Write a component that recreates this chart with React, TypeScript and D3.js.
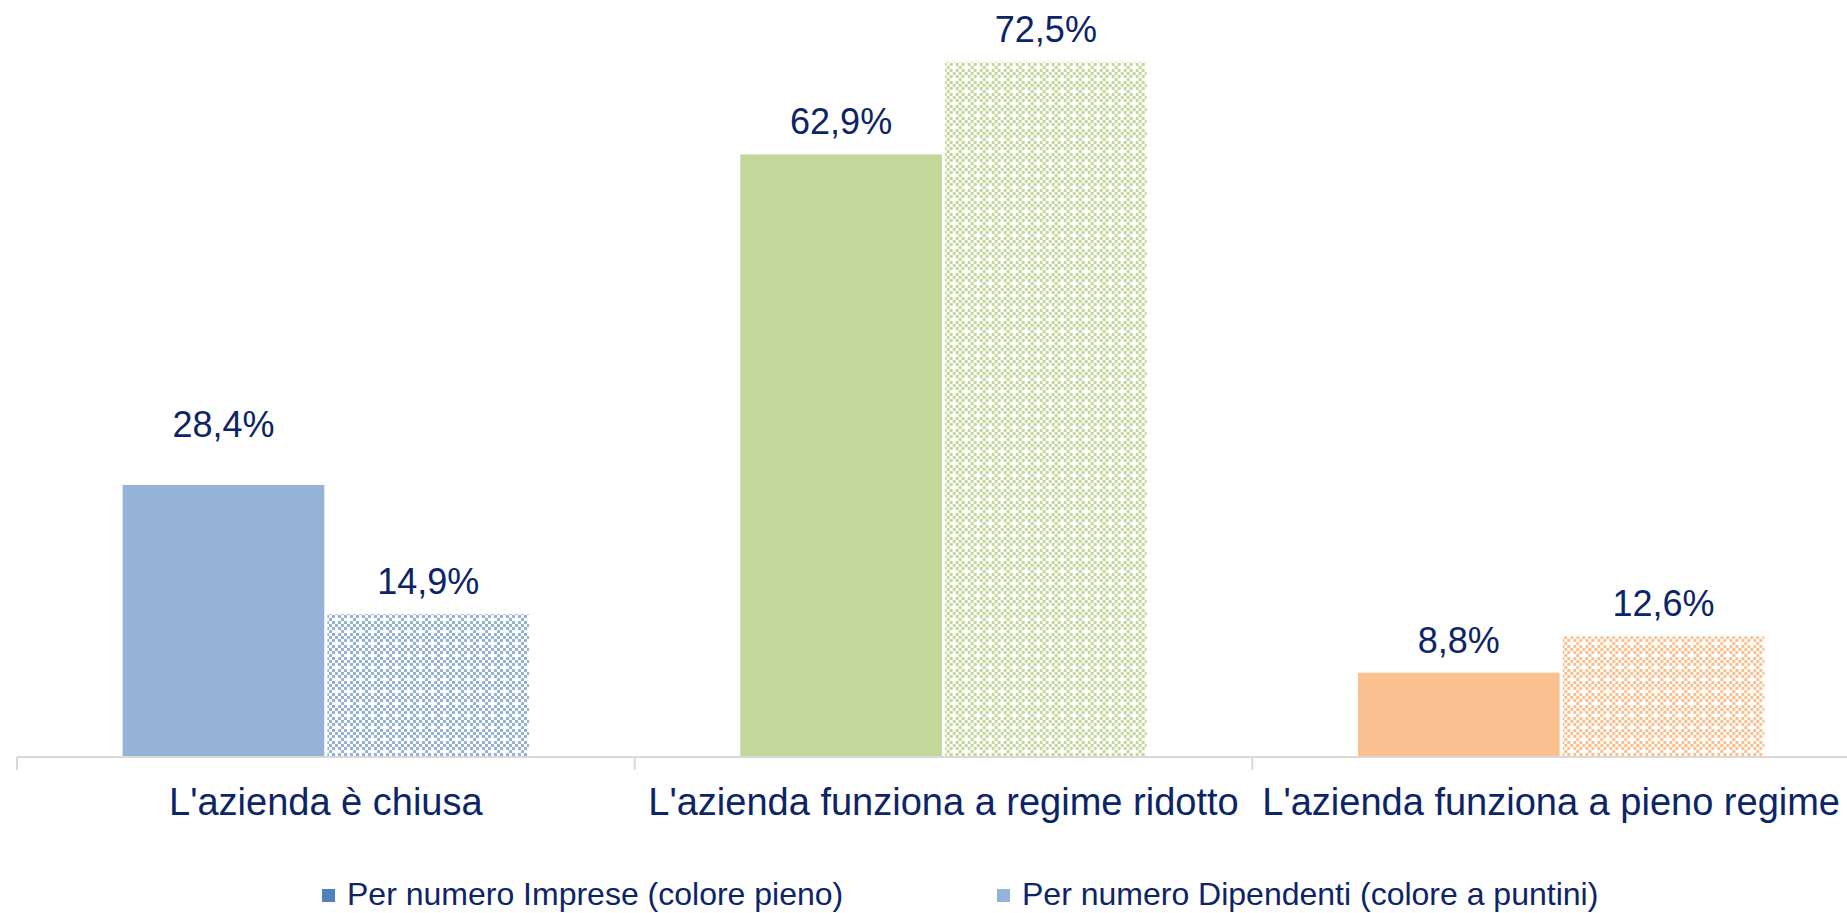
import React, { useEffect, useRef } from "react";
import * as d3 from "d3";

// --- Data
const categories = [
  "L'azienda è chiusa",
  "L'azienda funziona a regime ridotto",
  "L'azienda funziona a pieno regime",
];
const series = ["Per numero Imprese (colore pieno)", "Per numero Dipendenti (colore a puntini)"];
const imprese = [28.4, 62.9, 8.8];
const dipendenti = [14.9, 72.5, 12.6];
const catColors = ["#95b3d7", "#c4d79b", "#fac090"];
const legendColors = ["#4f81bd", "#95b3d7"];

const W = 1847;
const H = 913;
const TEXT = "#0c2468";
const FONT = "'Liberation Sans', Arial, sans-serif";

const App: React.FC = () => {
  const ref = useRef<SVGSVGElement | null>(null);

  useEffect(() => {
    if (!ref.current) return;
    const root = d3.select(ref.current);
    root.selectAll("*").remove();

    // x: the plot area runs past the right edge of the window, like the original
    const x = d3.scaleBand<string>().domain(categories).range([17, 1870]).padding(0);
    const bw = x.bandwidth();
    const xs = d3
      .scaleBand<number>()
      .domain([0, 1])
      .range([bw * 0.171, bw * 0.829])
      .paddingInner(0.015);
    const y = d3.scaleLinear().domain([0, 80]).range([757, 757 - 80 * 9.58]);

    // --- dotted patterns
    const defs = root.append("defs");
    catColors.forEach((c, i) => {
      const p = defs
        .append("pattern")
        .attr("id", `dots-${i}`)
        .attr("patternUnits", "userSpaceOnUse")
        .attr("width", 12)
        .attr("height", 12);
      p.append("rect").attr("width", 12).attr("height", 12).attr("fill", "#fff");
      for (let r = 0; r < 4; r++) {
        for (let k = 0; k < 4; k++) {
          if ((r + k) % 2 !== 0) continue;
          if (r === 2 && k === 2) continue;
          p.append("rect")
            .attr("x", k * 3)
            .attr("y", r * 3)
            .attr("width", 3)
            .attr("height", 3)
            .attr("fill", c);
        }
      }
    });

    const g = root.append("g");

    // --- bars
    const rows = categories.map((cat, i) => ({
      cat,
      i,
      vals: [imprese[i], dipendenti[i]],
    }));

    const groups = g
      .selectAll(".grp")
      .data(rows)
      .join("g")
      .attr("class", "grp")
      .attr("transform", (d) => `translate(${x(d.cat)},0)`);

    groups
      .selectAll("rect")
      .data((d) => d.vals.map((v, s) => ({ v, s, i: d.i })))
      .join("rect")
      .attr("x", (d) => xs(d.s)!)
      .attr("width", xs.bandwidth())
      .attr("y", (d) => y(d.v))
      .attr("height", (d) => y(0) - y(d.v))
      .attr("fill", (d) => (d.s === 0 ? catColors[d.i] : `url(#dots-${d.i})`));

    // value labels (the first one was moved up by hand in the original)
    groups
      .selectAll("text")
      .data((d) => d.vals.map((v, s) => ({ v, s, i: d.i })))
      .join("text")
      .attr("x", (d) => xs(d.s)! + xs.bandwidth() / 2)
      .attr("y", (d) => y(d.v) - (d.i === 0 && d.s === 0 ? 48 : 20))
      .attr("text-anchor", "middle")
      .style("font-family", FONT)
      .style("font-size", "36px")
      .style("fill", TEXT)
      .text((d) => `${d.v.toFixed(1).replace(".", ",")}%`);

    // --- axis
    const axis = g.append("g").attr("transform", `translate(0,${y(0)})`);
    axis
      .append("line")
      .attr("x1", 17)
      .attr("x2", 1870)
      .attr("stroke", "#d9d9d9")
      .attr("stroke-width", 2);
    const edges = categories.map((c) => x(c)!).concat([1870]);
    axis
      .selectAll(".tick")
      .data(edges)
      .join("line")
      .attr("class", "tick")
      .attr("x1", (d) => d)
      .attr("x2", (d) => d)
      .attr("y1", 0)
      .attr("y2", 13)
      .attr("stroke", "#d9d9d9")
      .attr("stroke-width", 2);

    // category labels, pulled back inside the window when they overflow
    g.selectAll(".cat")
      .data(categories)
      .join("text")
      .attr("class", "cat")
      .attr("x", (d) => x(d)! + bw / 2)
      .attr("y", 815)
      .attr("text-anchor", "middle")
      .style("font-family", FONT)
      .style("font-size", "38px")
      .style("fill", TEXT)
      .text((d) => d)
      .each(function (d) {
        const len = (this as SVGTextElement).getComputedTextLength();
        const cx = x(d)! + bw / 2;
        if (cx + len / 2 > W - 7) d3.select(this).attr("x", W - 7 - len / 2);
      });

    // --- legend
    const legendX = [322, 997];
    const lg = g
      .selectAll(".leg")
      .data(series)
      .join("g")
      .attr("class", "leg")
      .attr("transform", (_, i) => `translate(${legendX[i]},0)`);
    lg.append("rect")
      .attr("x", 0)
      .attr("y", 889)
      .attr("width", 13)
      .attr("height", 13)
      .attr("fill", (_, i) => legendColors[i]);
    lg.append("text")
      .attr("x", 25)
      .attr("y", 905)
      .style("font-family", FONT)
      .style("font-size", "32px")
      .style("fill", TEXT)
      .text((d) => d);
  }, []);

  return (
    <svg
      ref={ref}
      width={W}
      height={H}
      style={{ position: "absolute", left: 0, top: 0, background: "#fff" }}
    />
  );
};

export default App;
